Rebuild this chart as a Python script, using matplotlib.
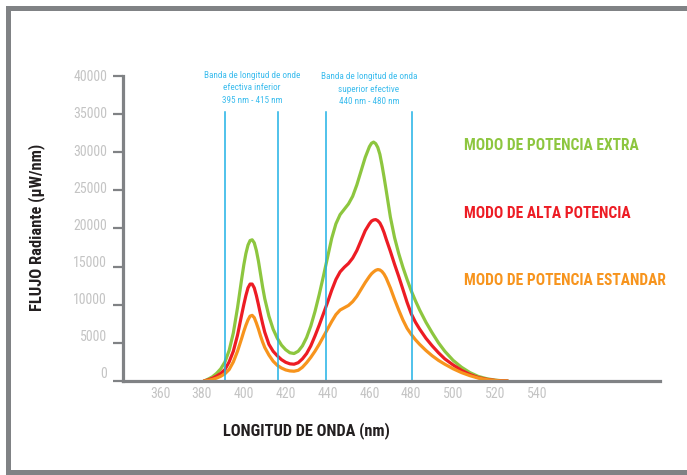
import matplotlib
matplotlib.use("Agg")
import matplotlib.pyplot as plt
from matplotlib.patches import Rectangle
from matplotlib.transforms import ScaledTranslation
from matplotlib import font_manager as fm

# ---- data ----
wavelength = [381, 383, 385, 387, 389, 391, 393, 395, 397, 399, 400, 401, 402, 403, 404, 405, 406, 407,
              408, 409, 410, 412, 414, 416, 418, 420, 422, 424, 426, 428, 430, 432, 434, 436, 438, 440,
              442, 444, 446, 448, 450, 452, 454, 456, 458, 460, 461, 462, 463, 464, 465, 466, 467, 468,
              470, 472, 474, 476, 478, 480, 482, 484, 487, 490, 493, 496, 500, 504, 508, 512, 516, 520,
              523, 526]
extra = [0, 250, 550, 1000, 1600, 2500, 4000, 6300, 9600, 13400, 15200, 16700, 17800, 18400, 18500, 18100, 17100, 15700,
         14000, 12300, 10800, 8500, 6800, 5600, 4700, 4100, 3700, 3600, 3900, 4600, 5700, 7200, 9100, 11300, 13700, 16200,
         18700, 20600, 21800, 22500, 23200, 24200, 25700, 27500, 29300, 30700, 31150, 31300, 31100, 30600, 29700, 28300, 26700, 25000,
         21500, 18800, 16700, 14900, 13300, 11800, 10500, 9300, 7700, 6300, 5000, 3900, 2700, 1800, 1100, 600, 300, 120,
         40, 0]
alta = [0, 150, 350, 650, 1000, 1500, 2500, 3900, 6000, 8700, 10000, 11200, 12200, 12700, 12700, 12200, 11200, 10000,
        8700, 7500, 6400, 4800, 3900, 3300, 2800, 2450, 2250, 2200, 2400, 2900, 3600, 4600, 5900, 7300, 8800, 10300,
        11900, 13300, 14300, 14900, 15400, 16100, 17100, 18400, 19700, 20600, 20950, 21100, 21150, 21000, 20700, 20150, 19450, 18600,
        17000, 15300, 13700, 12000, 10300, 8800, 7700, 6800, 5600, 4600, 3700, 2900, 2100, 1400, 850, 450, 220, 80,
        25, 0]
estandar = [0, 80, 200, 380, 620, 950, 1500, 2500, 3900, 5600, 6500, 7300, 8000, 8500, 8600, 8300, 7600, 6800,
            5900, 5100, 4400, 3400, 2600, 2050, 1700, 1450, 1320, 1280, 1400, 1800, 2400, 3100, 3900, 4800, 5800, 6800,
            7800, 8700, 9300, 9600, 9900, 10400, 11100, 12000, 12900, 13700, 14050, 14300, 14500, 14600, 14550, 14350, 14000, 13500,
            12200, 10700, 9300, 8000, 6900, 6100, 5400, 4800, 4000, 3300, 2700, 2200, 1600, 1100, 700, 380, 180, 60,
            15, 0]
band_lines = [391, 416.5, 439.5, 480.5]
x_ticks = [360, 380, 400, 420, 440, 460, 480, 500, 520, 540]
y_ticks = [0, 5000, 10000, 15000, 20000, 25000, 30000, 35000, 40000]
series_labels = ["MODO DE POTENCIA EXTRA", "MODO DE ALTA POTENCIA", "MODO DE POTENCIA ESTANDAR"]

# ---- font choice: prefer a condensed sans ----
entries = fm.fontManager.ttflist
names = {f.name for f in entries}
FAMILY = None
STRETCH = 'normal'
SCALE = 1.0
for cand in ['Liberation Sans Narrow', 'Roboto Condensed', 'Open Sans Condensed', 'DejaVu Sans Condensed',
             'Noto Sans Condensed', 'Arial Narrow', 'Nimbus Sans Narrow']:
    if cand in names:
        FAMILY = cand
        break
if FAMILY is None:
    for f in entries:
        if f.name in ('Roboto', 'Noto Sans', 'Open Sans', 'Liberation Sans') and 'condensed' in str(f.stretch):
            FAMILY = f.name
            STRETCH = 'condensed'
            break
if FAMILY is None:
    FAMILY = 'Liberation Sans'
    SCALE = 0.8

plt.rcParams['font.family'] = [FAMILY, 'DejaVu Sans']
plt.rcParams['font.stretch'] = STRETCH

GREEN = '#8dc63f'
RED = '#ed1c24'
ORANGE = '#f7941d'
BLUE = '#1fb1e6'
BLUE_TXT = '#3dbdee'
GRAY = '#808285'
LIGHT = '#c4c4c4'

W, H = 687, 475
fig = plt.figure(figsize=(W / 100, H / 100), dpi=100)

def fx(px):
    return px / W

def fy(py):
    return 1 - py / H

ax = fig.add_axes([fx(123), fy(381), fx(660) - fx(123), fy(75.7) - fy(381)])
ax.set_xlim(342.3, 598.8)
ax.set_ylim(0, 40000)

ax.plot(wavelength, extra, color=GREEN, lw=2.3, zorder=3, solid_capstyle='round', solid_joinstyle='round')
ax.plot(wavelength, alta, color=RED, lw=2.3, zorder=3.1, solid_capstyle='round', solid_joinstyle='round')
ax.plot(wavelength, estandar, color=ORANGE, lw=2.3, zorder=3.2, solid_capstyle='round', solid_joinstyle='round')

for b in band_lines:
    ax.axvline(b, ymin=0, ymax=(381 - 111.7) / (381 - 75.7), color=BLUE, lw=1.1, zorder=4)

for s in ['top', 'right']:
    ax.spines[s].set_visible(False)
for s in ['left', 'bottom']:
    ax.spines[s].set_color(GRAY)
    ax.spines[s].set_linewidth(2.3)
    ax.spines[s].set_zorder(5)

ax.set_xticks(x_ticks)
ax.set_yticks(y_ticks)
ax.tick_params(axis='x', length=0, pad=4.5, labelsize=10 * SCALE, labelcolor=LIGHT)
ax.tick_params(axis='y', length=7.5, width=1.6, color=GRAY, pad=4, labelsize=10 * SCALE, labelcolor=LIGHT)

# in the reference, lower y labels sit slightly above their ticks
n = len(y_ticks) - 1
for k, lab in enumerate(ax.get_yticklabels()):
    up_px = (n - k) * 1.0
    lab.set_transform(lab.get_transform() + ScaledTranslation(0, up_px / 100, fig.dpi_scale_trans))

fig.text(fx(37), fy(227), "FLUJO Radiante (µW/nm)", fontsize=11.9 * SCALE, fontweight='bold',
         color='#231f20', rotation=90, ha='center', va='center')

fig.text(fx(306), fy(431), "LONGITUD DE ONDA (nm)", fontsize=11.8 * SCALE, fontweight='bold',
         color='#231f20', ha='center', va='center')

fig.text(fx(252), fy(88), "Banda de longitud de onde\nefectiva inferior\n395 nm - 415 nm",
         fontsize=6.6 * SCALE, color=BLUE_TXT, ha='center', va='center', linespacing=1.45)
fig.text(fx(369), fy(89), "Banda de longitud de onda\nsuperior efective\n440 nm - 480 nm",
         fontsize=6.6 * SCALE, color=BLUE_TXT, ha='center', va='center', linespacing=1.45)

for lab, col, yy in zip(series_labels, [GREEN, RED, ORANGE], [145.5, 213.3, 280.5]):
    fig.text(fx(464), fy(yy), lab, fontsize=11.2 * SCALE, fontweight='bold', color=col,
             ha='left', va='center')

# frame
fig.add_artist(Rectangle((fx(6), fy(475)), fx(5), fy(6) - fy(475), transform=fig.transFigure,
                         facecolor=GRAY, edgecolor='none'))
fig.add_artist(Rectangle((fx(6), fy(11)), 1, fy(6) - fy(11), transform=fig.transFigure,
                         facecolor=GRAY, edgecolor='none'))
fig.add_artist(Rectangle((fx(6), fy(475)), 1, fy(470) - fy(475), transform=fig.transFigure,
                         facecolor=GRAY, edgecolor='none'))

fig.savefig("out.png", dpi=100)
